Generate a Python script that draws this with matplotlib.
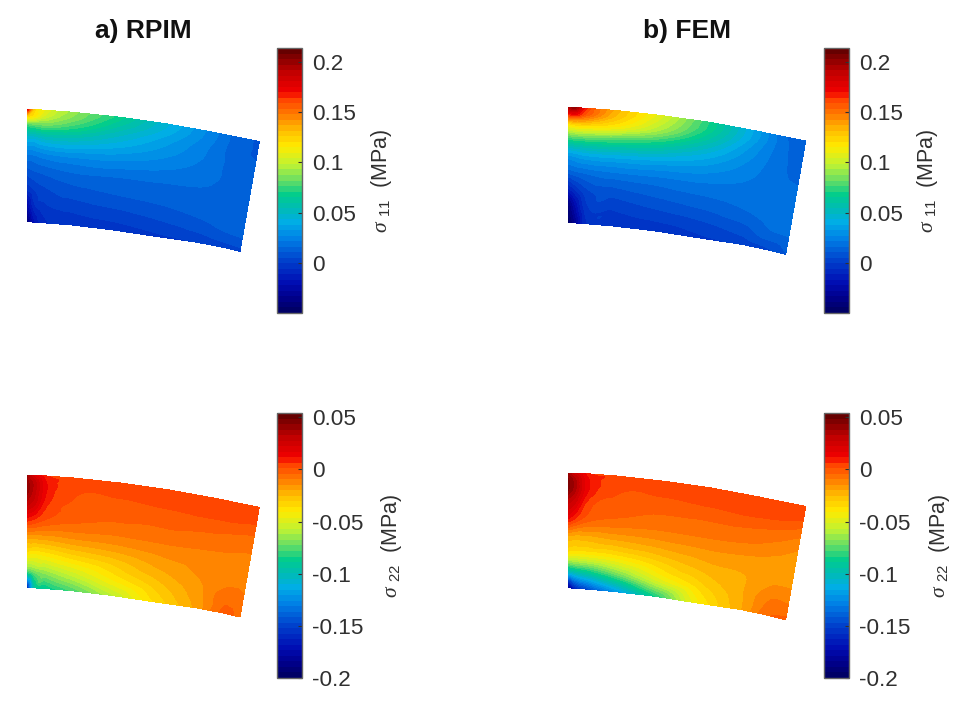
import numpy as np
import matplotlib
matplotlib.use("Agg")
import matplotlib.pyplot as plt
import matplotlib.tri as mtri
from matplotlib.cm import ScalarMappable
from matplotlib.colors import LinearSegmentedColormap, Normalize

plt.rcParams["font.family"] = ["Liberation Sans", "DejaVu Sans"]
plt.rcParams["mathtext.fontset"] = "custom"
plt.rcParams["mathtext.it"] = "Liberation Serif:italic"
plt.rcParams["mathtext.rm"] = "Liberation Sans"

W, H = 976, 705
text_col = "#303030"

# mesh rows, 0 is the top edge and 1 the bottom edge
t_rows = [0, .06, .14, .25, .4, .55, .7, .85, 1]

# outline of the plate (pixels from its top left corner)
rpim_top_x = [0, 7, 19, 46, 93, 139, 186, 214, 232]
rpim_top_y = [0, .3, 1, 3, 8, 14.5, 23, 28.7, 32.3]
rpim_bot_x = [0, 6.4, 17, 43, 85, 128, 170, 196, 212.7]
rpim_bot_y = [112.3, 112.8, 113.5, 115.5, 120.5, 127, 133, 138, 142]

fem_top_x = [0, 7, 19, 48, 95, 143, 190, 219, 238]
fem_top_y = [0, .3, 1, 3.2, 8.4, 15.2, 24, 30, 33.7]
fem_bot_x = [0, 6.5, 17.4, 43.6, 87, 131, 174, 200, 218]
fem_bot_y = [115, 115.5, 116.3, 118.5, 123.5, 130.5, 137, 142.5, 147]

# stress values
s11_rpim = [
    [.175, .125, .108, .090, .068, .045, .024, .012, .010],
    [.125, .115, .100, .085, .062, .042, .023, .012, .010],
    [.075, .078, .080, .072, .052, .036, .021, .012, .010],
    [.045, .045, .050, .050, .040, .030, .020, .013, .012],
    [.022, .022, .025, .027, .026, .022, .018, .014, .014],
    [.008, .010, .012, .015, .015, .015, .015, .015, .015],
    [-.004, .000, .004, .008, .010, .011, .013, .015, .015],
    [-.025, -.008, -.002, .001, .003, .005, .008, .011, .012],
    [-.042, -.020, -.008, -.005, -.004, -.002, .000, .002, .003],
]
s11_fem = [
    [.190, .200, .165, .135, .105, .070, .035, .016, .012],
    [.165, .170, .155, .130, .100, .068, .034, .017, .012],
    [.120, .125, .125, .115, .090, .060, .030, .017, .013],
    [.080, .082, .082, .078, .065, .045, .026, .017, .014],
    [.035, .037, .040, .040, .036, .030, .022, .017, .016],
    [.014, .016, .018, .020, .020, .020, .019, .018, .018],
    [-.012, -.005, .004, .008, .011, .013, .016, .019, .019],
    [-.042, -.025, -.003, .000, .003, .005, .009, .015, .016],
    [-.050, -.035, -.008, -.006, -.005, -.002, .001, .004, .010],
]
s22_rpim = [
    [.040, .020, .008, .006, .005, .005, .005, .005, .006],
    [.040, .030, .012, .004, .003, .004, .005, .006, .006],
    [.040, .030, .012, .002, .001, .002, .003, .003, .002],
    [.030, .024, .008, .000, -.002, -.002, -.002, -.003, -.004],
    [.008, .005, .000, -.004, -.006, -.006, -.007, -.008, -.009],
    [-.018, -.018, -.018, -.016, -.015, -.013, -.012, -.012, -.012],
    [-.040, -.042, -.040, -.034, -.028, -.020, -.014, -.012, -.012],
    [-.075, -.070, -.065, -.055, -.040, -.028, -.016, -.006, -.008],
    [-.160, -.100, -.090, -.078, -.058, -.035, -.018, -.003, -.006],
]
s22_fem = [
    [.040, .025, .010, .006, .005, .005, .005, .005, .004],
    [.045, .035, .014, .004, .003, .004, .005, .005, .004],
    [.045, .035, .014, .002, .001, .002, .003, .002, .000],
    [.030, .024, .006, -.001, -.003, -.003, -.003, -.005, -.008],
    [.012, .006, -.002, -.006, -.008, -.008, -.009, -.012, -.015],
    [-.020, -.022, -.022, -.020, -.018, -.016, -.016, -.017, -.018],
    [-.040, -.042, -.042, -.040, -.032, -.024, -.020, -.016, -.016],
    [-.100, -.095, -.090, -.075, -.050, -.033, -.020, -.010, -.010],
    [-.190, -.165, -.150, -.125, -.085, -.042, -.020, -.005, -.003],
]

s11_range = (-0.05, 0.214)
s22_range = (-0.2, 0.054)
s11_ticks = [0, 0.05, 0.1, 0.15, 0.2]
s11_ticklabels = ["0", "0.05", "0.1", "0.15", "0.2"]
s22_ticks = [-0.2, -0.15, -0.1, -0.05, 0, 0.05]
s22_ticklabels = ["-0.2", "-0.15", "-0.1", "-0.05", "0", "0.05"]

# colormap as seen on the colorbar, softer than plain jet
cmap_points = [
    (0.0, (0, 0, .40)), (.05, (0, 0, .55)), (.105, (0, .05, .70)),
    (.19, (0, .25, .80)), (.275, (0, .50, .90)), (.34, (0, .68, .90)),
    (.38, (0, .72, .75)), (.445, (0, .80, .55)), (.50, (.40, .87, .40)),
    (.56, (.75, .95, .20)), (.63, (1, .92, 0)), (.69, (1, .75, 0)),
    (.75, (1, .50, 0)), (.815, (1, .25, 0)), (.84, (.95, 0, 0)),
    (.92, (.75, 0, 0)), (1.0, (.40, 0, 0)),
]
cmap = LinearSegmentedColormap.from_list("bar", cmap_points, N=48)


def px_axes(fig, x, y, w, h):
    return fig.add_axes([x / W, 1 - (y + h) / H, w / W, h / H])


def grid_triangles(nrow, ncol):
    tris = []
    for i in range(nrow - 1):
        for j in range(ncol - 1):
            a = i * ncol + j
            tris.append([a, a + 1, a + ncol])
            tris.append([a + 1, a + ncol + 1, a + ncol])
    return tris


def draw_panel(fig, x0, y0, top_x, top_y, bot_x, bot_y, vals, vrange):
    ax = px_axes(fig, x0, y0, 245, 155)
    t = np.array(t_rows)[:, None]
    X = np.array(top_x) + t * (np.array(bot_x) - np.array(top_x))
    Y = np.array(top_y) + t * (np.array(bot_y) - np.array(top_y))
    Z = np.array(vals)
    tri = mtri.Triangulation(X.ravel(), Y.ravel(), grid_triangles(*Z.shape))
    interp = mtri.CubicTriInterpolator(tri, Z.ravel(), kind="geom")
    fine_tri, fine_z = mtri.UniformTriRefiner(tri).refine_field(Z.ravel(), triinterpolator=interp, subdiv=3)
    levels = np.linspace(vrange[0], vrange[1], 49)
    ax.tricontourf(fine_tri, fine_z, levels=levels, cmap=cmap, extend="both")
    ax.set_xlim(0, 245)
    ax.set_ylim(155, 0)
    ax.axis("off")


def draw_cbar(fig, x0, y0, vrange, ticks, ticklabels, label, label_x):
    cax = px_axes(fig, x0, y0, 25, 265)
    sm = ScalarMappable(norm=Normalize(vrange[0], vrange[1]), cmap=cmap)
    cb = fig.colorbar(sm, cax=cax)
    cb.set_ticks(ticks)
    cb.set_ticklabels(ticklabels)
    cb.ax.tick_params(direction="in", length=3, width=0.8, color="#303030",
                      labelsize=16.2, labelcolor=text_col, pad=7)
    cb.outline.set_edgecolor("#666666")
    cb.outline.set_linewidth(1.0)
    fig.text(label_x / W, 1 - (y0 + 133) / H, label, rotation=90, ha="center",
             va="center", fontsize=15.5, color=text_col)


fig = plt.figure(figsize=(W / 100, H / 100), dpi=100)

draw_panel(fig, 27.3, 109.3, rpim_top_x, rpim_top_y, rpim_bot_x, rpim_bot_y, s11_rpim, s11_range)
draw_panel(fig, 567.7, 107.3, fem_top_x, fem_top_y, fem_bot_x, fem_bot_y, s11_fem, s11_range)
draw_panel(fig, 27.3, 475, rpim_top_x, rpim_top_y, rpim_bot_x, rpim_bot_y, s22_rpim, s22_range)
draw_panel(fig, 567.7, 472.7, fem_top_x, fem_top_y, fem_bot_x, fem_bot_y, s22_fem, s22_range)

label_11 = r"$\sigma_{\ \,11}$  (MPa)"
label_22 = r"$\sigma_{\ \,22}$  (MPa)"
draw_cbar(fig, 277, 48, s11_range, s11_ticks, s11_ticklabels, label_11, 381)
draw_cbar(fig, 824, 48, s11_range, s11_ticks, s11_ticklabels, label_11, 928)
draw_cbar(fig, 277, 413, s22_range, s22_ticks, s22_ticklabels, label_22, 392)
draw_cbar(fig, 824, 413, s22_range, s22_ticks, s22_ticklabels, label_22, 939)

fig.text(143 / W, 1 - 31 / H, "a) RPIM", ha="center", va="center", fontsize=19,
         fontweight="bold", color="#111111")
fig.text(687 / W, 1 - 31 / H, "b) FEM", ha="center", va="center", fontsize=19,
         fontweight="bold", color="#111111")

fig.savefig("out.png", dpi=100)
